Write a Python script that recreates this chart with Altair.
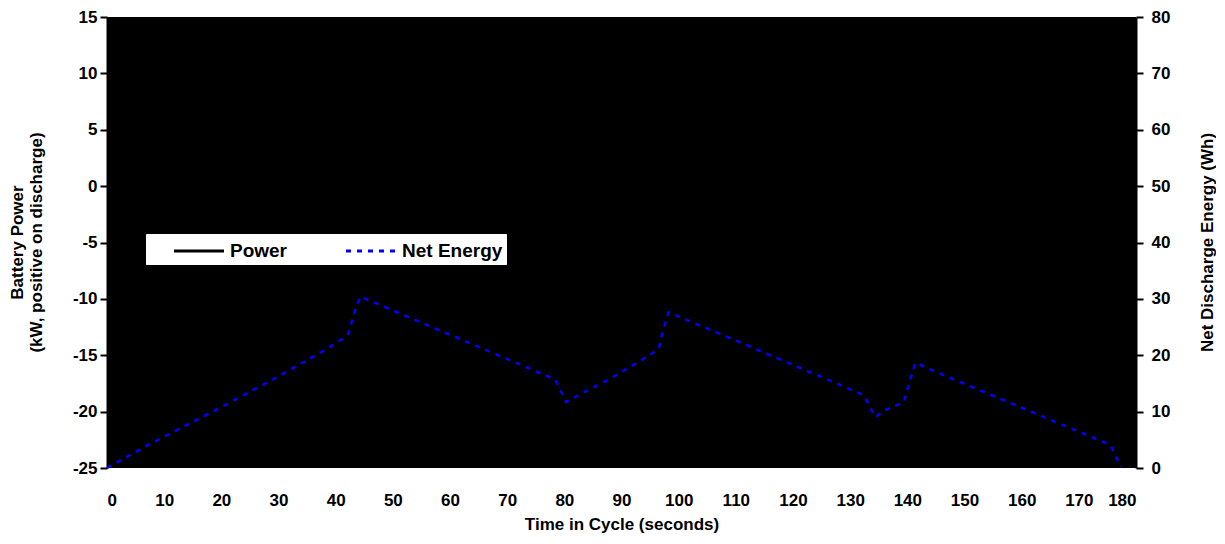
import altair as alt
import pandas as pd

# Net discharge energy (Wh) vs time in cycle (s)
time_s = [0, 7, 17, 22, 29, 36, 40.5, 42.2, 43.7, 44.4, 46.6, 61, 78.4, 80.3, 83,
          87.4, 94.4, 96.5, 97.1, 98.2, 110, 128.3, 132.4, 134.4, 136, 139.4, 140.3,
          141.4, 143.7, 160, 175.5, 177.4]
energy_wh = [0, 4, 9.2, 11.9, 15.7, 19.7, 22.4, 23.8, 29.0, 30.4, 29.4, 23.2, 15.7,
             11.7, 13.2, 15.5, 19.7, 21.1, 23.8, 27.6, 22.6, 14.7, 12.9, 9.0, 10.2,
             11.7, 15.0, 18.7, 17.6, 10.7, 4.1, 0.2]

series_names = ["Power", "Net Energy"]
series_colors = ["black", "#0000FF"]
x_ticks = list(range(0, 181, 10))
power_ticks = list(range(-25, 16, 5))
energy_ticks = list(range(0, 81, 10))

FONT = "Liberation Sans"
LBL = 17
TTL = 17

energy_df = pd.DataFrame({"t": time_s, "E": energy_wh, "series": "Net Energy"})
power_axis_df = pd.DataFrame({"t": [0] * len(power_ticks), "P": power_ticks})

common = dict(labelFontSize=LBL, titleFontSize=TTL, labelFont=FONT, titleFont=FONT,
              labelFontWeight="bold", titleFontWeight="bold",
              labelColor="black", titleColor="black", grid=False)

x_enc = alt.X("t:Q", scale=alt.Scale(domain=[0, 180], nice=False, zero=False),
              axis=alt.Axis(values=x_ticks, title="Time in Cycle (seconds)",
                            ticks=False, domain=False, labelPadding=24, titlePadding=8,
                            **common))

left = alt.Chart(power_axis_df).mark_point(opacity=0).encode(
    x=x_enc,
    y=alt.Y("P:Q", scale=alt.Scale(domain=[-25, 15], nice=False, zero=False),
            axis=alt.Axis(values=power_ticks, orient="left",
                          title=["Battery Power", "(kW, positive on discharge)"],
                          labelExpr="'' + datum.value",
                          tickSize=7, tickWidth=2, tickColor="black", labelPadding=3,
                          domainColor="black", domainWidth=2,
                          titleAngle=270, titleX=-90, titleY=225, titleAlign="center",
                          titleBaseline="middle", titleLineHeight=19, **common)),
)

right = alt.Chart(energy_df).mark_line(strokeWidth=2.5).encode(
    x=x_enc,
    y=alt.Y("E:Q", scale=alt.Scale(domain=[0, 80], nice=False, zero=False),
            axis=alt.Axis(values=energy_ticks, orient="right",
                          title="Net Discharge Energy (Wh)",
                          tickSize=7, tickWidth=2, tickColor="black", labelPadding=8,
                          domainColor="black", domainWidth=2,
                          titleAngle=270, titleX=71, titleY=225, titleAlign="center",
                          titleBaseline="middle", **common)),
    color=alt.Color("series:N", scale=alt.Scale(domain=series_names, range=series_colors),
                    legend=alt.Legend(title=None, orient="none", direction="horizontal",
                                      legendX=39, legendY=217, fillColor="white",
                                      strokeColor="white", padding=3,
                                      symbolType="M-2,0L2,0", symbolSize=625,
                                      symbolStrokeWidth=3, symbolOffset=36,
                                      labelFont=FONT, labelFontSize=19, labelFontWeight="bold",
                                      labelColor="black", labelOffset=17, columnPadding=33,
                                      labelLimit=300)),
    strokeDash=alt.StrokeDash("series:N",
                              scale=alt.Scale(domain=series_names, range=[[1, 0], [5, 6]]),
                              legend=None),
)

chart = alt.layer(left, right).resolve_scale(y="independent").properties(
    width=1029, height=451,
    autosize=alt.AutoSizeParams(type="none"),
    padding={"left": 99, "top": 9, "right": 80, "bottom": 76},
    background="white",
).configure_view(fill="black", stroke=None)

chart.save("out.html", embed_options={"renderer": "svg", "actions": False})
